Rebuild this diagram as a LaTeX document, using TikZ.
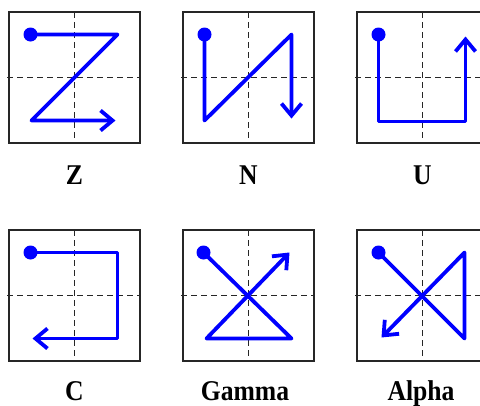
\documentclass[tikz,border=0pt]{standalone}
\usepackage{fontspec}
\setmainfont{Liberation Serif}
\usetikzlibrary{arrows.meta}
\tikzset{
  frame/.style={draw=black!85, line width=1.1pt, minimum size=131pt, inner sep=0pt, outer sep=0pt},
  guide/.style={draw=black!85, line width=1.5pt, dash pattern=on 6pt off 4pt},
  stroke/.style={draw=blue, line width=3.8pt, line join=round, line cap=round,
    -{Straight Barb[length=12pt, width=20pt, line width=3.8pt]}},
  dot/.style={fill=blue, circle, inner sep=0pt, minimum size=14pt},
  lbl/.style={font=\fontsize{27}{27}\selectfont\bfseries, inner sep=0pt, anchor=base}
}
\newcommand{\gridbox}[2]{%
  \node[frame] (#1) at #2 {};
  \draw[guide] ([xshift=-2pt]#1.west) -- (#1.east);
  \draw[guide] (#1.north) -- (#1.south);
}
\begin{document}
\begin{tikzpicture}[x=1pt, y=-1pt]
\clip (0,0) rectangle (480,405);
\useasboundingbox (0,0) rectangle (480,405);
\fill[white] (0,0) rectangle (480,405);

\gridbox{bz}{(74.5,77.5)}
\gridbox{bn}{(248.5,77.5)}
\gridbox{bu}{(422.5,77.5)}
\gridbox{bc}{(74.5,295.5)}
\gridbox{bg}{(248.5,295.5)}
\gridbox{ba}{(422.5,295.5)}

% Z
\begin{scope}[shift={(bz.center)}]
  \draw[stroke] (-44,-43) -- (43,-43) -- (-43,43) -- (41,43);
  \node[dot] (dz) at (-44,-43) {};
\end{scope}
% N
\begin{scope}[shift={(bn.center)}]
  \draw[stroke] (-44,-43) -- (-44,43) -- (43,-43) -- (43,41);
  \node[dot] (dn) at (-44,-43) {};
\end{scope}
% U
\begin{scope}[shift={(bu.center)}]
  \draw[stroke] (-44,-43) -- (-44,44) -- (43,44) -- (43,-41);
  \node[dot] (du) at (-44,-43) {};
\end{scope}
% C
\begin{scope}[shift={(bc.center)}]
  \draw[stroke] (-44,-43) -- (43,-43) -- (43,43) -- (-42,43);
  \node[dot] (dc) at (-44,-43) {};
\end{scope}
% Gamma
\begin{scope}[shift={(bg.center)}]
  \draw[stroke] (-45,-43) -- (43,43) -- (-42,43) -- (41,-43);
  \node[dot] (dg) at (-45,-43) {};
\end{scope}
% Alpha
\begin{scope}[shift={(ba.center)}]
  \draw[stroke] (-44,-43) -- (42,43) -- (42,-43) -- (-41,42);
  \node[dot] (da) at (-44,-43) {};
\end{scope}

\node[lbl] (lz) at (74.5,184) {\scalebox{0.95}[1.06]{Z}};
\node[lbl] (ln) at (248.5,184) {\scalebox{0.95}[1.06]{N}};
\node[lbl] (lu) at (422.5,184) {\scalebox{0.95}[1.06]{U}};
\node[lbl] (lc) at (74.5,400) {\scalebox{0.95}[1.06]{C}};
\node[lbl] (lg) at (245,400) {\scalebox{0.95}[1.06]{Gamma}};
\node[lbl] (la) at (421,400) {\scalebox{0.95}[1.06]{Alpha}};
\end{tikzpicture}
\end{document}
